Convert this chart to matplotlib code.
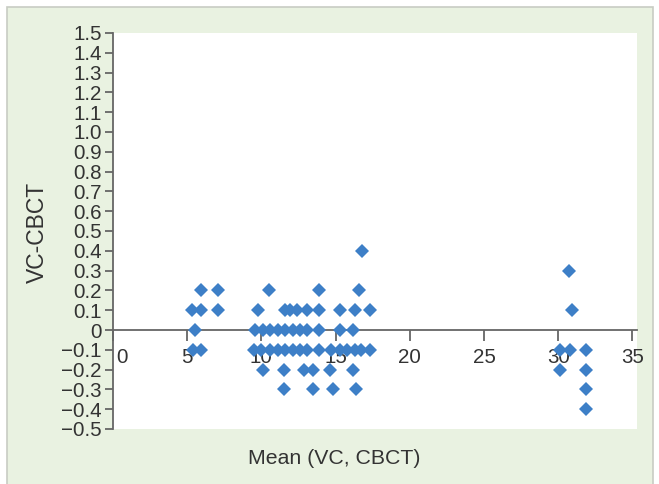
import matplotlib
matplotlib.use('Agg')
import matplotlib.pyplot as plt
from matplotlib.patches import Rectangle
from matplotlib.transforms import ScaledTranslation

# Bland-Altman style data: mean of VC and CBCT vs difference
mean_vals = [16.8,
             30.7,
             5.9, 7.1, 10.5, 13.9, 16.6,
             5.3, 5.9, 7.1, 9.8, 11.6, 11.9, 12.4, 13.1, 13.9, 15.3, 16.3, 17.3, 30.9,
             5.5, 9.6, 10.1, 10.6, 11.1, 11.6, 12.1, 12.6, 13.1, 13.9, 15.3, 16.2,
             5.4, 5.9, 9.5, 10.0, 10.6, 11.1, 11.6, 12.1, 12.6, 13.1, 13.9, 14.7, 15.3,
             15.8, 16.3, 16.7, 17.3, 30.1, 30.8, 31.9,
             10.1, 11.5, 12.9, 13.5, 14.6, 16.2, 30.1, 31.9,
             11.5, 13.5, 14.8, 16.4, 31.9,
             31.9]
diff_vals = [0.4,
             0.3,
             0.2, 0.2, 0.2, 0.2, 0.2,
             0.1, 0.1, 0.1, 0.1, 0.1, 0.1, 0.1, 0.1, 0.1, 0.1, 0.1, 0.1, 0.1,
             0, 0, 0, 0, 0, 0, 0, 0, 0, 0, 0, 0,
             -0.1, -0.1, -0.1, -0.1, -0.1, -0.1, -0.1, -0.1, -0.1, -0.1, -0.1, -0.1, -0.1,
             -0.1, -0.1, -0.1, -0.1, -0.1, -0.1, -0.1,
             -0.2, -0.2, -0.2, -0.2, -0.2, -0.2, -0.2, -0.2,
             -0.3, -0.3, -0.3, -0.3, -0.3,
             -0.4]

xticks = [0, 5, 10, 15, 20, 25, 30, 35]
yticks = [-0.5, -0.4, -0.3, -0.2, -0.1, 0, 0.1, 0.2, 0.3, 0.4, 0.5, 0.6, 0.7,
          0.8, 0.9, 1.0, 1.1, 1.2, 1.3, 1.4, 1.5]
ytick_labels = ['\u22120.5', '\u22120.4', '\u22120.3', '\u22120.2', '\u22120.1', '0',
                '0.1', '0.2', '0.3', '0.4', '0.5', '0.6', '0.7', '0.8', '0.9',
                '1.0', '1.1', '1.2', '1.3', '1.4', '1.5']

plt.rcParams['font.family'] = ['Liberation Sans', 'DejaVu Sans']

W, H = 659, 484
fig = plt.figure(figsize=(W/100, H/100), dpi=100)
fig.patch.set_facecolor('white')
fig.patches.append(Rectangle((7/W, -0.01), (653-7)/W, 1 - 7/H + 0.01,
                             transform=fig.transFigure, facecolor='#e9f2e1',
                             edgecolor='#c8ccc4', linewidth=1.2, zorder=-5))

left, right, top, bottom = 113, 637, 33, 429
ax = fig.add_axes([left/W, 1 - bottom/H, (right-left)/W, (bottom-top)/H])
ax.set_facecolor('white')

ax.plot(mean_vals, diff_vals, 'D', color='#3d7fc7', markersize=6.8,
        markeredgewidth=0, clip_on=False, zorder=3)

ax.set_xlim(0, (right-left)/14.84)
ax.set_ylim(-0.5, 1.5)

ax.spines['top'].set_visible(False)
ax.spines['right'].set_visible(False)
ax.spines['bottom'].set_position(('data', 0))
for s in ['left', 'bottom']:
    ax.spines[s].set_color('#666666')
    ax.spines[s].set_linewidth(1.3)

ax.set_xticks(xticks)
ax.set_xticklabels([str(t) for t in xticks])
ax.set_yticks(yticks)
ax.set_yticklabels(ytick_labels)
ax.tick_params(axis='x', direction='out', length=8, width=1.3, color='#666666',
               labelsize=14.8, labelcolor='#333333', pad=5)
ax.tick_params(axis='y', direction='out', length=6, width=1.3, color='#666666',
               labelsize=14.8, labelcolor='#333333', pad=2)

# shift the "0" label off the y axis
lab0 = ax.get_xticklabels()[0]
lab0.set_transform(lab0.get_transform() + ScaledTranslation(9/100, 0, fig.dpi_scale_trans))

fig.text(37/W, 1 - 232/H, 'VC-CBCT', rotation=90, ha='center', va='center',
         fontsize=16.5, color='#333333')
fig.text(334/W, 1 - 458/H, 'Mean (VC, CBCT)', ha='center', va='center',
         fontsize=15.3, color='#333333')

plt.savefig('out.png', dpi=100)
